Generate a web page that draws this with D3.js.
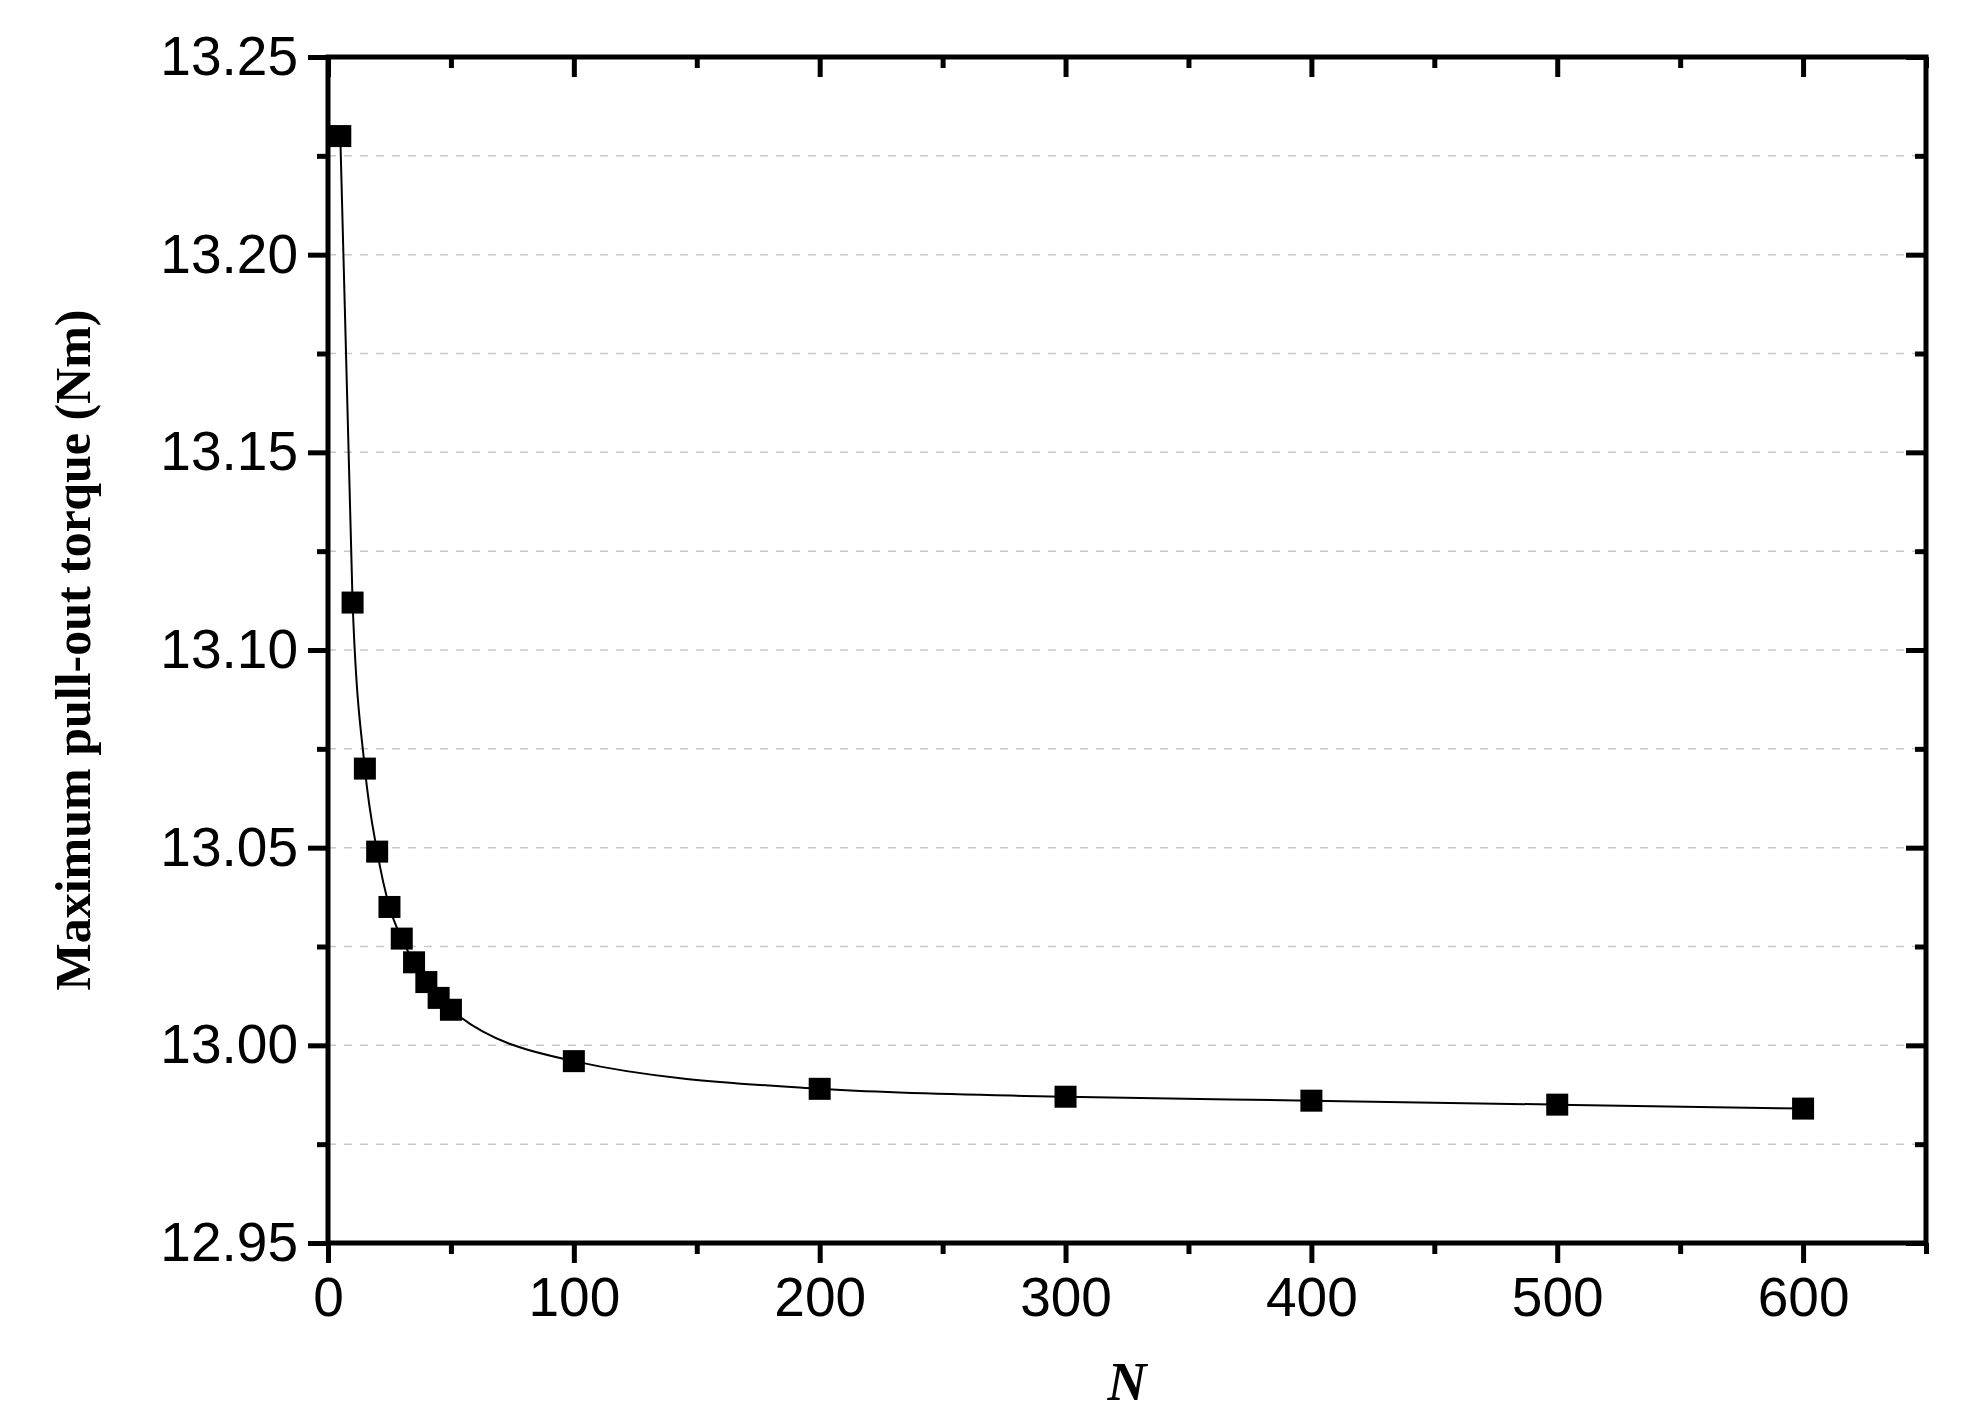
<!DOCTYPE html><html><head><meta charset="utf-8">
<script src="https://cdn.jsdelivr.net/npm/d3@7"></script>
<style>body{margin:0;background:#fff}</style></head><body>
<svg id="c" width="1968" height="1422"></svg>
<script>
const nValues=[5,10,15,20,25,30,35,40,45,50,100,200,300,400,500,600];
const torque=[13.230,13.112,13.070,13.049,13.035,13.027,13.021,13.016,13.012,13.009,12.996,12.989,12.987,12.986,12.985,12.984];
const xTicks=[0,100,200,300,400,500,600];
const yTicks=[12.95,13.00,13.05,13.10,13.15,13.20,13.25];
const yMinor=[12.975,13.025,13.075,13.125,13.175,13.225];
const xMinor=[50,150,250,350,450,550,650];
const L=328,R=1926,T=57,B=1243;
const svg=d3.select("#c");
const x=d3.scaleLinear().domain([0,650]).range([L,R]);
const y=d3.scaleLinear().domain([12.95,13.25]).range([B,T]);
// grid
svg.append("g").selectAll("line").data(yTicks.slice(1,-1).concat(yMinor)).join("line")
 .attr("x1",L).attr("x2",R).attr("y1",d=>y(d)).attr("y2",d=>y(d))
 .attr("stroke","#c8c8c8").attr("stroke-width",1.5).attr("stroke-dasharray","8,8");
const font="Liberation Sans, Arial, sans-serif";
function styleAxis(g){g.select(".domain").remove();g.selectAll("line").attr("stroke","#000").attr("stroke-width",5);
 g.selectAll("text").attr("font-family",font).attr("font-size",55).attr("fill","#000");}
svg.append("g").attr("transform",`translate(0,${B})`).call(d3.axisBottom(x).tickValues(xTicks).tickSize(20).tickPadding(14).tickFormat(d3.format("d"))).call(styleAxis);
svg.append("g").attr("transform",`translate(0,${B})`).call(d3.axisBottom(x).tickValues(xMinor).tickSize(11).tickFormat("")).call(styleAxis);
svg.append("g").attr("transform",`translate(${L},0)`).call(d3.axisLeft(y).tickValues(yTicks).tickSize(20).tickPadding(10).tickFormat(d3.format(".2f"))).call(styleAxis);
svg.append("g").attr("transform",`translate(${L},0)`).call(d3.axisLeft(y).tickValues(yMinor).tickSize(11).tickFormat("")).call(styleAxis);
svg.append("g").attr("transform",`translate(${R},0)`).call(d3.axisRight(y).tickValues(yTicks).tickSize(-20).tickFormat("")).call(styleAxis);
svg.append("g").attr("transform",`translate(${R},0)`).call(d3.axisRight(y).tickValues(yMinor).tickSize(-11).tickFormat("")).call(styleAxis);
svg.append("g").attr("transform",`translate(0,${T})`).call(d3.axisTop(x).tickValues(xTicks).tickSize(-20).tickFormat("")).call(styleAxis);
svg.append("g").attr("transform",`translate(0,${T})`).call(d3.axisTop(x).tickValues(xMinor).tickSize(-11).tickFormat("")).call(styleAxis);
svg.append("rect").attr("x",L).attr("y",T).attr("width",R-L).attr("height",B-T).attr("fill","none").attr("stroke","#000").attr("stroke-width",5);
const pts=nValues.map((n,i)=>[n,torque[i]]);
svg.append("path").datum(pts).attr("d",d3.line().x(d=>x(d[0])).y(d=>y(d[1])).curve(d3.curveMonotoneX))
 .attr("fill","none").attr("stroke","#000").attr("stroke-width",2);
svg.append("g").selectAll("rect").data(pts).join("rect").attr("x",d=>x(d[0])-11).attr("y",d=>y(d[1])-11)
 .attr("width",22).attr("height",22).attr("fill","#000");
svg.append("text").attr("x",(L+R)/2).attr("y",1400).attr("text-anchor","middle").attr("font-family","Liberation Serif, Times New Roman, serif")
 .attr("font-weight","bold").attr("font-style","italic").attr("font-size",54).text("N");
svg.append("text").attr("transform",`translate(90,${(T+B)/2}) rotate(-90)`).attr("text-anchor","middle").attr("font-family","Liberation Serif, Times New Roman, serif")
 .attr("font-weight","bold").attr("font-size",50).text("Maximum pull-out torque (Nm)");
</script></body></html>
